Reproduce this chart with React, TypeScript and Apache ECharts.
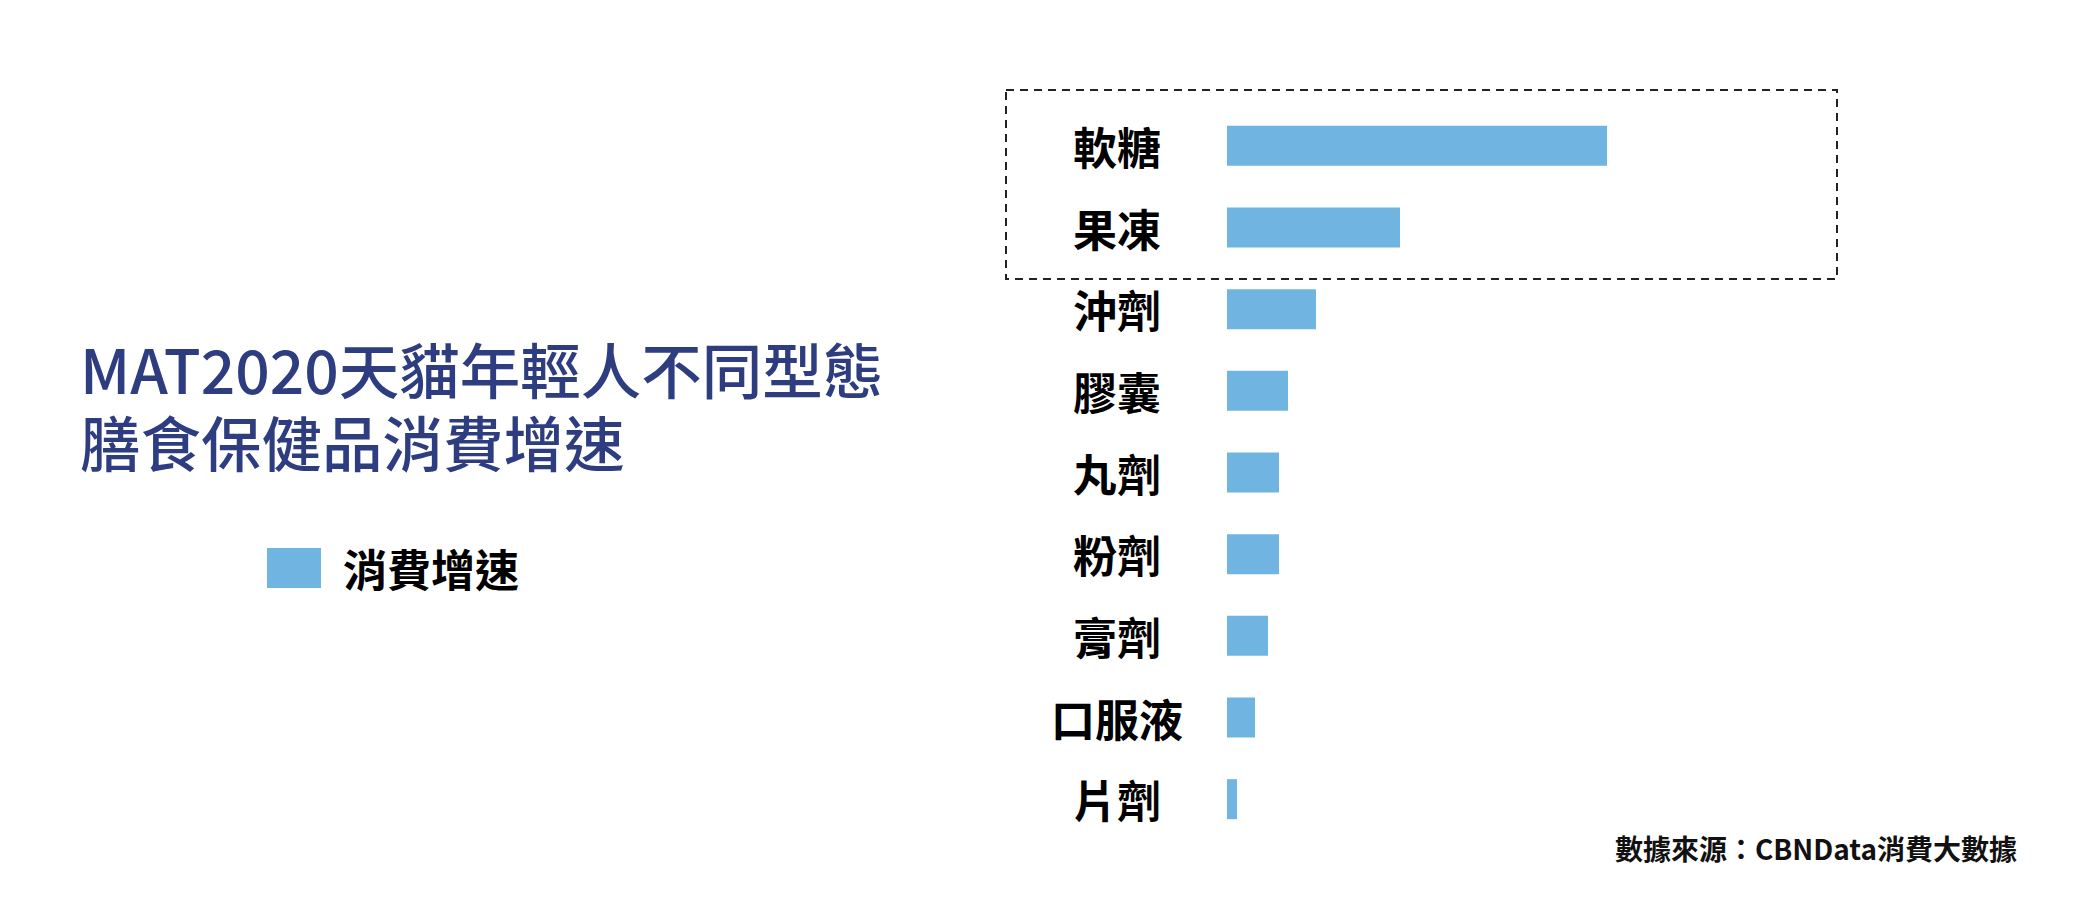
import * as echarts from "echarts"
import { useEffect, useRef } from "react"

const categories = ["軟糖", "果凍", "沖劑", "膠囊", "丸劑", "粉劑", "膏劑", "口服液", "片劑"]
// relative growth (no axis in the source)
const growth = [380, 173, 89, 61, 52, 52, 41, 28, 10]
const seriesName = "消費增速"
const titleLines = ["MAT2020天貓年輕人不同型態", "膳食保健品消費增速"]
const sourceText = "數據來源：CBNData消費大數據"

const FONT = '"Noto Sans CJK TC", "Noto Sans", sans-serif'
const BAR = "#70b5e2"

export default function App() {
  const ref = useRef<HTMLDivElement>(null)

  useEffect(() => {
    if (!ref.current) return
    const chart = echarts.init(ref.current, null, { renderer: "svg" })
    chart.setOption({
      animation: false,
      backgroundColor: "#ffffff",
      textStyle: { fontFamily: FONT },
      title: titleLines.map((t, i) => ({
        text: t,
        left: 80,
        top: 334 + i * 73,
        padding: 0,
        textStyle: {
          color: "#2d3d80",
          fontSize: 60.5,
          lineHeight: 66,
          fontWeight: 500,
          fontFamily: FONT,
        },
      })),
      legend: {
        left: 267,
        top: 546,
        padding: 0,
        itemWidth: 54,
        itemHeight: 40,
        icon: "rect",
        selectedMode: false,
        data: [seriesName],
        textStyle: {
          fontSize: 44,
          color: "#000",
          fontWeight: "bold",
          fontFamily: FONT,
          padding: [0, 0, 0, 17],
        },
      },
      grid: { left: 1227, top: 105, height: 735, width: 800 },
      xAxis: { type: "value", min: 0, max: 800, show: false },
      yAxis: {
        type: "category",
        inverse: true,
        data: categories,
        axisLine: { show: false },
        axisTick: { show: false },
        splitLine: { show: false },
        axisLabel: {
          fontSize: 44,
          color: "#000",
          fontWeight: "bold",
          fontFamily: FONT,
          align: "center",
          margin: 110,
        },
      },
      series: [
        {
          name: seriesName,
          type: "bar",
          data: growth,
          barWidth: 40,
          silent: true,
          itemStyle: { color: BAR },
        },
      ],
      graphic: [
        {
          type: "rect",
          shape: { x: 1006, y: 90, width: 831, height: 189 },
          style: { fill: "none", stroke: "#222", lineWidth: 2, lineDash: [8, 6] },
          silent: true,
        },
        {
          type: "text",
          x: 2017,
          y: 848,
          style: {
            text: sourceText,
            fill: "#111",
            fontSize: 28,
            fontWeight: "bold",
            fontFamily: FONT,
            textAlign: "right",
            textVerticalAlign: "middle",
          },
        },
      ],
    })
    return () => chart.dispose()
  }, [])

  return (
    <div
      ref={ref}
      style={{ position: "absolute", left: 0, top: 0, width: 2081, height: 906 }}
    />
  )
}
